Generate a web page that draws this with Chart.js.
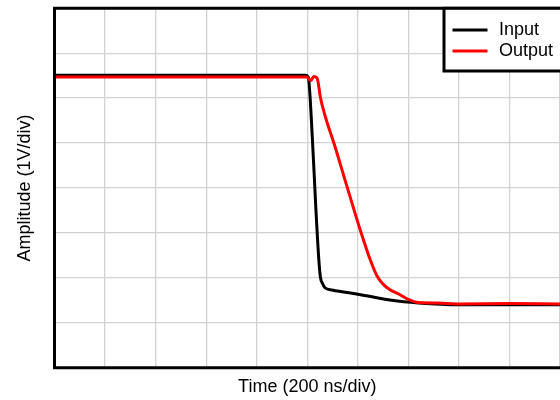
<!DOCTYPE html>
<html>
<head>
<meta charset="UTF-8">
<title>Input / Output step response</title>
<script src="https://cdn.jsdelivr.net/npm/chart.js"></script>
<style>
    html, body { margin: 0; padding: 0; background: #fff; }
    #wrap { width: 560px; height: 400px; position: relative; }
</style>
</head>
<body>
<div id="wrap"><canvas id="scope"></canvas></div>
<script>
    // time in divisions (200 ns/div), amplitude in divisions (1 V/div)
    const inputTime = [0, 4.97, 5.02, 5.10, 5.17, 5.23, 5.26, 5.30, 5.35, 5.49, 6.03, 6.67, 7.20, 7.99, 10];
    const inputVolts = [6.51, 6.51, 6.47, 5.13, 3.55, 2.39, 2.02, 1.88, 1.78, 1.73, 1.63, 1.50, 1.44, 1.40, 1.40];

    const outputTime = [0, 4.99, 5.07, 5.13, 5.20, 5.23, 5.26, 5.36, 5.53, 5.79, 6.05, 6.25, 6.38, 6.50, 6.63, 6.81, 7.00, 7.20, 7.59, 7.99, 9.0, 10];
    const outputVolts = [6.47, 6.47, 6.39, 6.48, 6.43, 6.24, 6.02, 5.58, 4.99, 4.02, 3.06, 2.39, 2.04, 1.86, 1.74, 1.64, 1.52, 1.45, 1.44, 1.42, 1.43, 1.42];

    const seriesNames = ['Input', 'Output'];
    const seriesColors = ['#000000', '#ff0000'];

    const FONT = '"Liberation Sans", Arial, sans-serif';

    const toPoints = (xs, ys) => xs.map((x, i) => ({ x: x, y: ys[i] }));

    // frame: top, left and bottom edges (right edge is outside the picture)
    const framePlugin = {
        id: 'frame',
        afterDraw(chart) {
            const { ctx, chartArea: a } = chart;
            ctx.save();
            ctx.strokeStyle = '#000';
            ctx.lineWidth = 3;
            ctx.beginPath();
            ctx.moveTo(chart.width + 5, a.top);
            ctx.lineTo(a.left, a.top);
            ctx.lineTo(a.left, a.bottom);
            ctx.lineTo(chart.width + 5, a.bottom);
            ctx.stroke();
            ctx.restore();
        }
    };

    // boxed legend in the top right corner
    const legendPlugin = {
        id: 'boxLegend',
        afterDraw(chart) {
            const { ctx, chartArea: a } = chart;
            ctx.save();
            ctx.fillStyle = '#fff';
            ctx.fillRect(444, a.top, 130, 71 - a.top);
            ctx.strokeStyle = '#000';
            ctx.lineWidth = 3;
            ctx.strokeRect(444, a.top, 130, 71 - a.top);
            ctx.font = '18px ' + FONT;
            ctx.textBaseline = 'alphabetic';
            seriesNames.forEach((name, i) => {
                const y = 30 + i * 21;
                ctx.strokeStyle = seriesColors[i];
                ctx.beginPath();
                ctx.moveTo(452.5, y);
                ctx.lineTo(487.5, y);
                ctx.stroke();
                ctx.fillStyle = '#000';
                ctx.fillText(name, 499, y + 4.5);
            });
            ctx.restore();
        }
    };

    new Chart(document.getElementById('scope'), {
        type: 'line',
        data: {
            datasets: [
                {
                    label: seriesNames[0],
                    data: toPoints(inputTime, inputVolts),
                    borderColor: seriesColors[0],
                    borderWidth: 3,
                    pointRadius: 0,
                    cubicInterpolationMode: 'monotone',
                    order: 1
                },
                {
                    label: seriesNames[1],
                    data: toPoints(outputTime, outputVolts),
                    borderColor: seriesColors[1],
                    borderWidth: 3,
                    pointRadius: 0,
                    cubicInterpolationMode: 'monotone',
                    order: 0
                }
            ]
        },
        options: {
            responsive: true,
            maintainAspectRatio: false,
            animation: false,
            layout: { padding: { top: 8.3, right: -2, left: 0, bottom: 0 } },
            plugins: {
                legend: { display: false },
                tooltip: { enabled: false }
            },
            scales: {
                x: {
                    type: 'linear',
                    min: 0,
                    max: 10,
                    ticks: { display: false, stepSize: 1 },
                    grid: { color: '#d2d2d2', lineWidth: 1.3, drawTicks: false },
                    border: { display: false },
                    title: {
                        display: true,
                        text: 'Time (200 ns/div)',
                        color: '#000',
                        font: { family: FONT, size: 18 },
                        padding: { top: 0, bottom: 2 }
                    },
                    afterFit(scale) { scale.height = 32.3; }
                },
                y: {
                    min: 0,
                    max: 8,
                    ticks: { display: false, stepSize: 1 },
                    grid: { color: '#d2d2d2', lineWidth: 1.3, drawTicks: false },
                    border: { display: false },
                    title: {
                        display: true,
                        text: 'Amplitude (1V/div)',
                        color: '#000',
                        font: { family: FONT, size: 18 },
                        padding: { top: 14, bottom: 0 }
                    },
                    afterFit(scale) { scale.width = 54.5; }
                }
            }
        },
        plugins: [framePlugin, legendPlugin]
    });
</script>
</body>
</html>
